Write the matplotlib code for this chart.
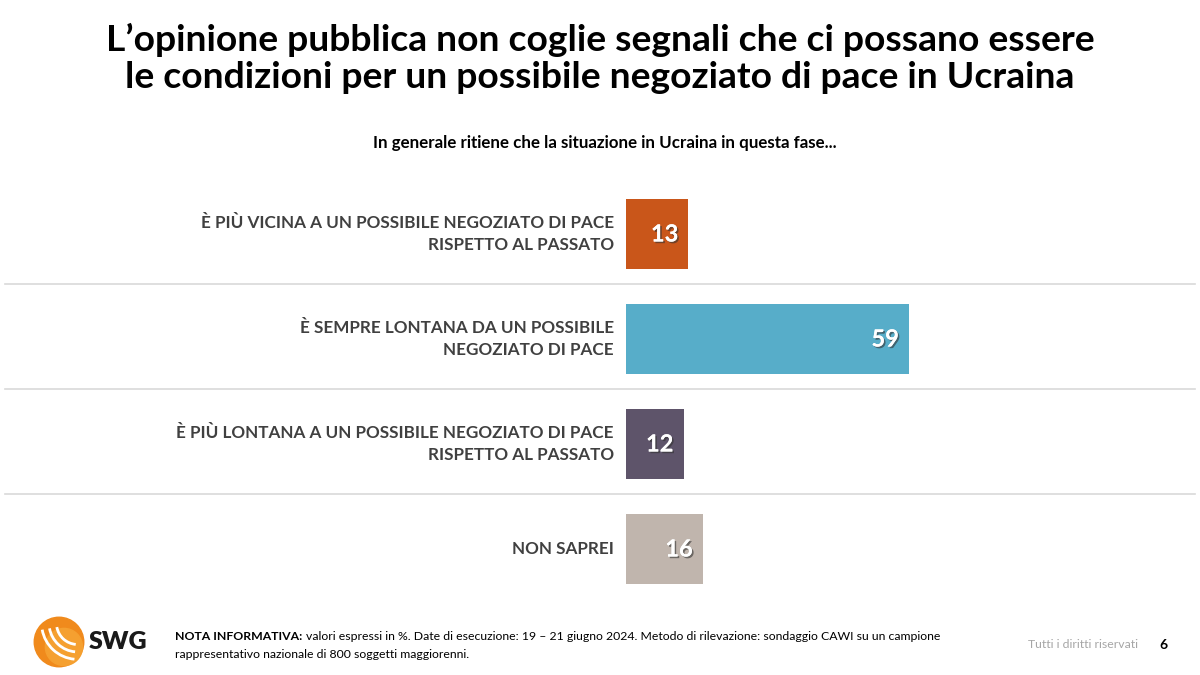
import matplotlib.pyplot as plt
import matplotlib.patheffects as pe
from matplotlib.patches import Circle, Arc

plt.rcParams["font.family"] = ["Lato", "DejaVu Sans"]

# data
categories = [
    "È PIÙ VICINA A UN POSSIBILE NEGOZIATO DI PACE\nRISPETTO AL PASSATO",
    "È SEMPRE LONTANA DA UN POSSIBILE\nNEGOZIATO DI PACE",
    "È PIÙ LONTANA A UN POSSIBILE NEGOZIATO DI PACE\nRISPETTO AL PASSATO",
    "NON SAPREI",
]
values = [13, 59, 12, 16]
colors = ["#C9561A", "#57ADC9", "#5E546A", "#C0B5AD"]

title = ("L’opinione pubblica non coglie segnali che ci possano essere\n"
         "le condizioni per un possibile negoziato di pace in Ucraina")
subtitle = "In generale ritiene che la situazione in Ucraina in questa fase..."

W, H = 1200, 675
fig = plt.figure(figsize=(12, 6.75), dpi=100)
fig.patch.set_facecolor("white")

# main axes covers whole figure; scale: 4.8 px per point, zero at x=626 px
ax = fig.add_axes([0, 0, 1, 1])
px = 4.8
ax.set_xlim(-626 / px, (W - 626) / px)
ax.set_ylim((H - 234) / 105, -234 / 105)
ax.axis("off")

ypos = list(range(len(values)))
ax.barh(ypos, values, height=0.67, color=colors, zorder=2)

shadow = [pe.withSimplePatchShadow(offset=(1.2, -1.2), shadow_rgbFace="#333333", alpha=0.6), pe.Normal()]
for y, v, lab in zip(ypos, values, categories):
    ax.text(v - 2.1, y, str(v), ha="right", va="center", color="white",
            fontsize=17, fontweight="bold", path_effects=shadow, zorder=3)
    ax.text(-2.5, y, lab, ha="right", va="center", color="#404040",
            fontsize=12.3, fontweight="bold", linespacing=1.5)

# separators between rows
for y in ypos[:-1]:
    ax.axhline(y + 0.475, xmin=0.004, xmax=0.996, color="#D9D9D9", lw=1.2, zorder=1)

# title and subtitle
fig.text(0.5, 1 - 58 / H, title, ha="center", va="center", fontsize=26.8,
         fontweight="bold", color="black", linespacing=1.15)
fig.text(605 / W, 1 - 143 / H, subtitle, ha="center", va="center",
         fontsize=12.2, fontweight="bold", color="black")

# footer
fs = 8.8
nota = fig.text(175 / W, 1 - 636 / H, "NOTA INFORMATIVA:", ha="left", va="center",
                fontsize=fs, fontweight="bold", color="black")
fig.canvas.draw()
bb = nota.get_window_extent(renderer=fig.canvas.get_renderer())
fig.text(bb.x1 / W + 4 / W, 1 - 636 / H,
         "valori espressi in %. Date di esecuzione: 19 – 21 giugno 2024. "
         "Metodo di rilevazione: sondaggio CAWI su un campione",
         ha="left", va="center", fontsize=fs, color="black")
fig.text(175 / W, 1 - 655 / H, "rappresentativo nazionale di 800 soggetti maggiorenni.",
         ha="left", va="center", fontsize=fs, color="black")
fig.text(1138 / W, 1 - 645 / H, "Tutti i diritti riservati", ha="right", va="center",
         fontsize=fs, color="#A6A6A6")
fig.text(1163 / W, 1 - 645 / H, "6", ha="center", va="center",
         fontsize=10, fontweight="bold", color="black")

# SWG logo
lax = fig.add_axes([33 / W, 1 - 668 / H, 52 / W, 52 / H])
lax.set_xlim(-1.05, 1.05)
lax.set_ylim(-1.05, 1.05)
lax.set_aspect("equal")
lax.axis("off")
lax.add_patch(Circle((0, 0), 1, color="#F08A1C"))
lax.add_patch(Circle((0.2, -0.2), 0.75, color="#F5A030"))
for r in [0.55, 0.85, 1.15]:
    lax.add_patch(Arc((0.75, 0.75), 2 * r + 0.6, 2 * r + 0.6, theta1=190, theta2=265,
                      color="white", lw=2))
fig.text(89 / W, 1 - 642 / H, "SWG", ha="left", va="center", fontsize=18,
         fontweight="heavy", color="#1A1A1A")

fig.savefig("out.png", dpi=100)
